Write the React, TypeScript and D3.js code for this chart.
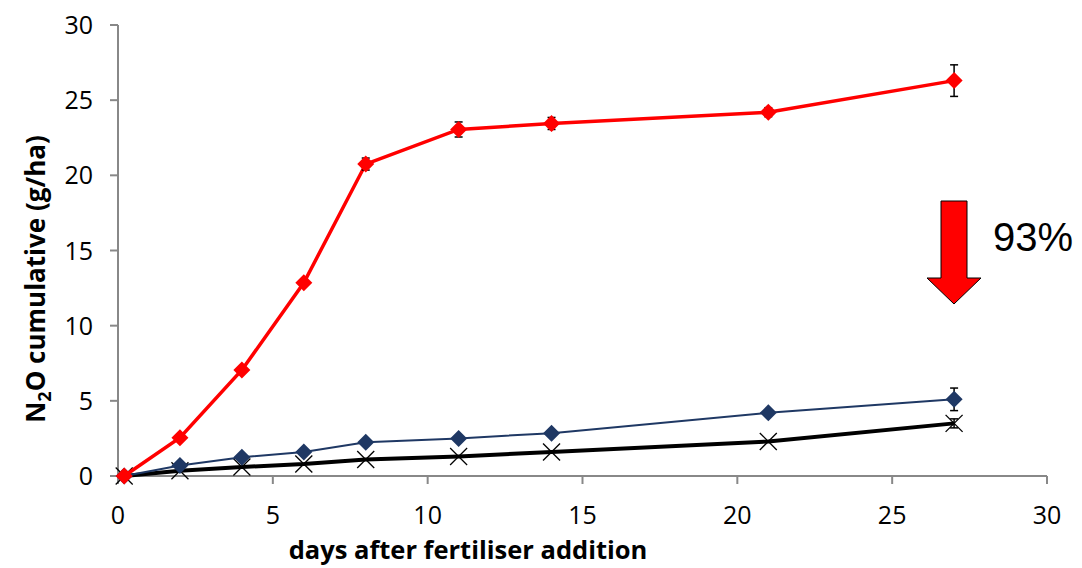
import React from "react";
import * as d3 from "d3";

const days = [0.2, 2, 4, 6, 8, 11, 14, 21, 27];
const redValues = [0, 2.55, 7.05, 12.85, 20.75, 23.05, 23.45, 24.2, 26.3];
const redErrors = [0, 0.1, 0.1, 0.15, 0.4, 0.5, 0.4, 0.3, 1.05];
const blueValues = [0, 0.7, 1.25, 1.6, 2.25, 2.5, 2.85, 4.2, 5.1];
const blueErrors = [0, 0.05, 0.05, 0.05, 0.1, 0.1, 0.1, 0.15, 0.75];
const blackValues = [0, 0.35, 0.6, 0.8, 1.1, 1.3, 1.6, 2.3, 3.5];
const blackErrors = [0, 0, 0, 0, 0, 0, 0, 0, 0.3];
const xTicks = [0, 5, 10, 15, 20, 25, 30];
const yTicks = [0, 5, 10, 15, 20, 25, 30];
const annotationText = "93%";

const W = 1082;
const H = 568;

export default function App() {
  const x = d3.scaleLinear().domain([0, 30]).range([118, 1047]);
  const y = d3.scaleLinear().domain([0, 30]).range([476, 25]);
  const line = d3
    .line<[number, number]>()
    .x((d) => x(d[0]))
    .y((d) => y(d[1]));

  const mk = (vals: number[]) => days.map((d, i) => [d, vals[i]] as [number, number]);
  const red = mk(redValues);
  const blue = mk(blueValues);
  const black = mk(blackValues);

  const errorBars = (vals: number[], errs: number[], key: string) =>
    days.map((d, i) =>
      errs[i] > 0 ? (
        <g key={key + i} stroke="#000" strokeWidth={1.5}>
          <line x1={x(d)} x2={x(d)} y1={y(vals[i] - errs[i])} y2={y(vals[i] + errs[i])} />
          <line x1={x(d) - 4} x2={x(d) + 4} y1={y(vals[i] + errs[i])} y2={y(vals[i] + errs[i])} />
          <line x1={x(d) - 4} x2={x(d) + 4} y1={y(vals[i] - errs[i])} y2={y(vals[i] - errs[i])} />
        </g>
      ) : null
    );

  const diamond = (cx: number, cy: number, r: number) =>
    `M${cx},${cy - r}L${cx + r},${cy}L${cx},${cy + r}L${cx - r},${cy}Z`;

  const font = "'Open Sans', 'Noto Sans', sans-serif";

  const ax = 954;
  const arrowPath = `M${ax - 13},201 L${ax + 13},201 L${ax + 13},278 L${ax + 27},278 L${ax},304 L${ax - 27},278 L${ax - 13},278 Z`;

  return (
    <svg width={W} height={H} style={{ position: "absolute", left: 0, top: 0, background: "#fff" }}>
      <g stroke="#888" strokeWidth={2}>
        <line x1={x(0)} x2={x(0)} y1={y(30)} y2={y(0)} />
        <line x1={x(0)} x2={x(30)} y1={y(0)} y2={y(0)} />
        {yTicks.map((t) => (
          <line key={"yt" + t} x1={x(0) - 8} x2={x(0)} y1={y(t)} y2={y(t)} />
        ))}
        {xTicks.map((t) => (
          <line key={"xt" + t} x1={x(t)} x2={x(t)} y1={y(0)} y2={y(0) + 8} />
        ))}
      </g>
      <g fontFamily={font} fontSize={25} fill="#000">
        {yTicks.map((t) => (
          <text key={"yl" + t} x={x(0) - 25} y={y(t)} dy="0.36em" textAnchor="end">
            {t}
          </text>
        ))}
        {xTicks.map((t) => (
          <text key={"xl" + t} x={x(t)} y={y(0) + 48} textAnchor="middle">
            {t}
          </text>
        ))}
      </g>
      <text
        x={468}
        y={559}
        textAnchor="middle"
        fontFamily={font}
        fontWeight="bold"
        fontSize={25.5}
        fill="#000"
      >
        days after fertiliser addition
      </text>
      <text
        transform={`translate(45,279) rotate(-90)`}
        textAnchor="middle"
        fontFamily={font}
        fontWeight="bold"
        fontSize={26}
        fill="#000"
      >
        N<tspan fontSize={18} dy={6}>2</tspan>
        <tspan dy={-6}>O cumulative (g/ha)</tspan>
      </text>

      <path d={line(black) || ""} fill="none" stroke="#000" strokeWidth={4} />
      {errorBars(blackValues, blackErrors, "ke")}
      {black.map((p, i) => (
        <g key={"km" + i} stroke="#000" strokeWidth={1.3}>
          <line x1={x(p[0]) - 8.5} x2={x(p[0]) + 8.5} y1={y(p[1]) - 8.5} y2={y(p[1]) + 8.5} />
          <line x1={x(p[0]) - 8.5} x2={x(p[0]) + 8.5} y1={y(p[1]) + 8.5} y2={y(p[1]) - 8.5} />
        </g>
      ))}

      <path d={line(blue) || ""} fill="none" stroke="#1F3864" strokeWidth={2} />
      {errorBars(blueValues, blueErrors, "be")}
      {blue.map((p, i) => (
        <path key={"bm" + i} d={diamond(x(p[0]), y(p[1]), 8.5)} fill="#1F3864" />
      ))}

      <path d={line(red) || ""} fill="none" stroke="#FF0000" strokeWidth={3.5} />
      {errorBars(redValues, redErrors, "re")}
      {red.map((p, i) => (
        <path key={"rm" + i} d={diamond(x(p[0]), y(p[1]), 8.5)} fill="#FF0000" />
      ))}

      <path d={arrowPath} fill="#FF0000" stroke="#000" strokeWidth={1} />
      <text x={993} y={251} fontFamily="'Liberation Sans', Arial, sans-serif" fontSize={40} fill="#000">
        {annotationText}
      </text>
    </svg>
  );
}
